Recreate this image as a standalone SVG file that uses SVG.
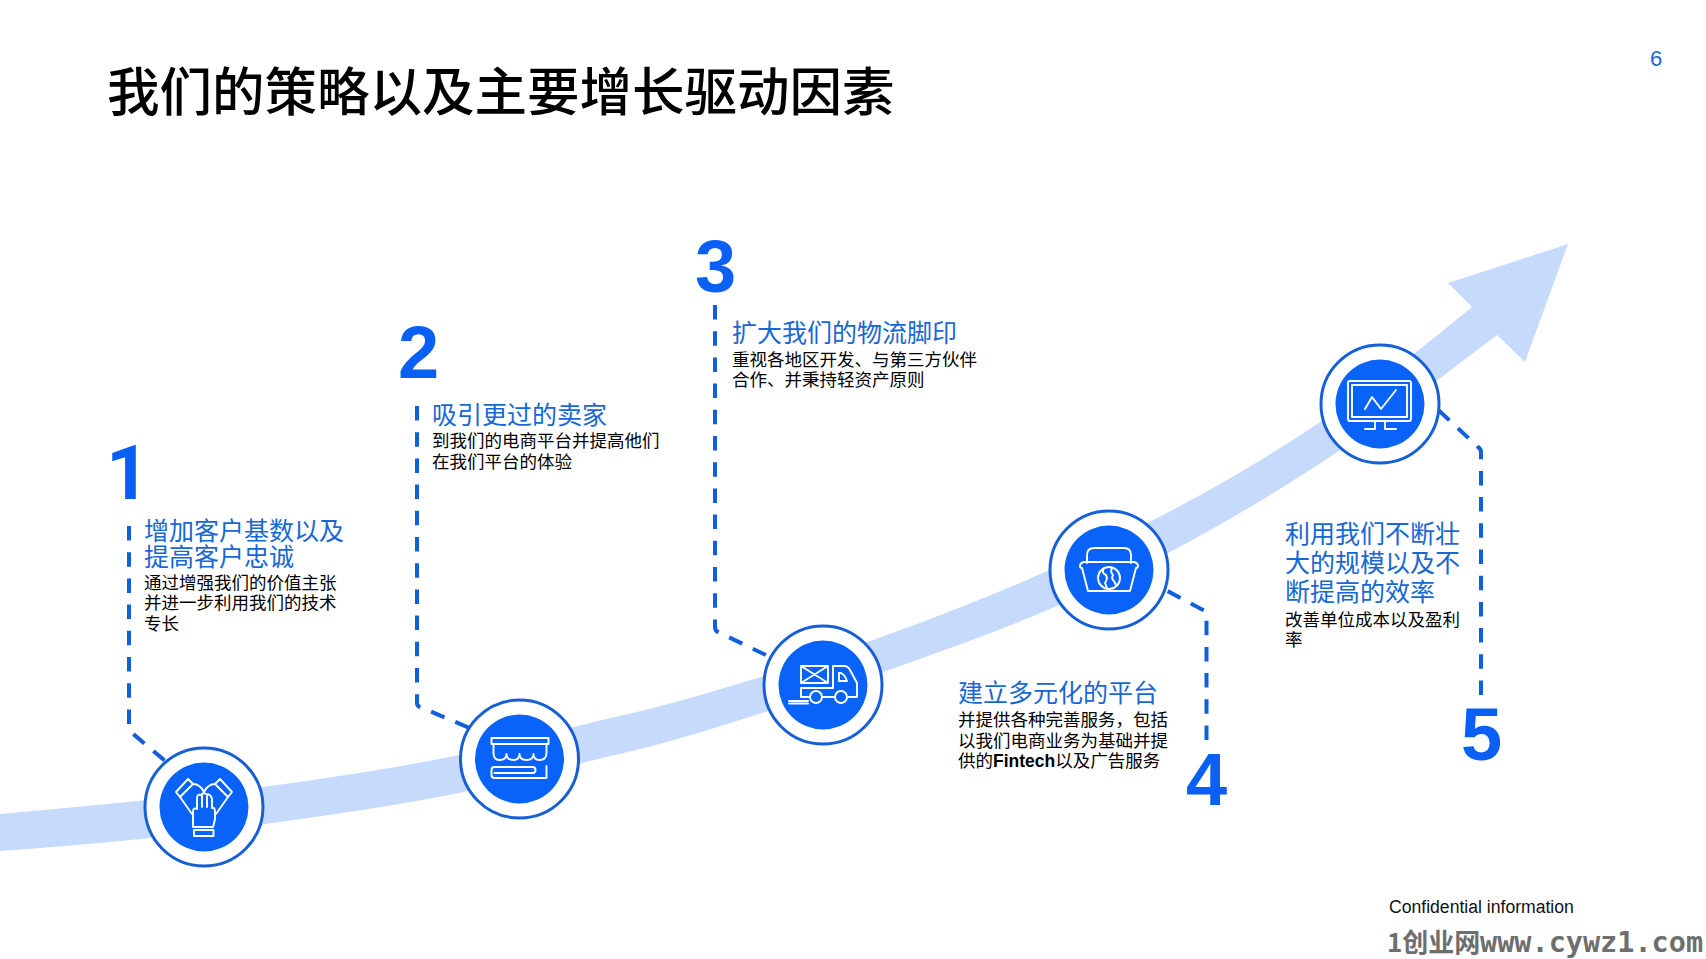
<svg xmlns="http://www.w3.org/2000/svg" width="1706" height="959" viewBox="0 0 1706 959">
<style>
text{font-family:"Noto Sans CJK SC","Liberation Sans",sans-serif}
.title{font-size:52.5px;fill:#000;font-weight:500}
.h{font-size:25px;fill:#1767d6}
.b{font-size:17.5px;fill:#000}
.n{font-family:"Liberation Sans",Arial,sans-serif;font-weight:700;font-size:74px;fill:#0a60f5}
.lat{font-family:"Liberation Sans",Arial,sans-serif;font-weight:700}
.dash{fill:none;stroke:#125fdc;stroke-width:4;stroke-dasharray:14.5 11.7}
.ring{fill:#fff;stroke:#155fd8;stroke-width:3}
.core{fill:#0a63f8}
.ic{fill:none;stroke:#fff;stroke-width:1.9;stroke-linejoin:round;stroke-linecap:round}
</style>
<rect width="1706" height="959" fill="#fff"/>
<text class="title" x="107" y="111">我们的策略以及主要增长驱动因素</text>
<text x="1650" y="66" style="font-family:'Liberation Sans',sans-serif;font-size:22px;fill:#1767d6">6</text>
<path id="growth-arrow" fill="#c6dbfb" d="M0,814 Q100,805 182,796.5 Q264,788 362,772.5 Q460,757 520,741 Q580,725 630,713.5 Q680,702 775,672.5 Q870,643 960,607.5 Q1050,572 1125,534.5 Q1200,497 1260,460.5 Q1320,424 1367.5,389 Q1415,354 1472,307 L1448,283 L1568,244 L1525,362 L1497,335 L1435,382 L1387.5,417 Q1340,452 1270,495 Q1200,538 1128,573.5 Q1056,609 968,641.5 Q880,674 780,707 Q680,740 630,751.5 Q580,763 520,779 Q460,795 362,810 Q264,825 182,834.5 Q100,844 0,851 Z"/>
<g id="connectors">
<path class="dash" d="M129,526 V727 Q129,730 132,733 L170,765"/>
<path class="dash" d="M417,406 V703 Q417,706 420,707 L472,729"/>
<path class="dash" d="M715,305 V627 Q715,631 718,632 L770,657"/>
<path class="dash" d="M1206.5,740 V614 Q1206.5,611 1203,610 L1160,587"/>
<path class="dash" d="M1481,695 V452 Q1481,449 1478,447 L1433,405"/>
</g>
<g id="node-1">
<circle class="ring" cx="204" cy="807" r="59"/><circle class="core" cx="204" cy="807" r="44.5"/>
<g class="ic" transform="translate(204,807)">
<path d="M-28,-15 L-16,-28 L-11,-23 L-24,-10 Z M28,-15 L16,-28 L11,-23 L24,-10 Z"/>
<path d="M-24,-10 L-12,7 M24,-10 L12,7 M-11,-23 Q-4,-23 0,-15 Q4,-23 11,-23"/>
<path d="M-11,20 V5 Q-11,0 -7,2 V-9 Q-7,-13 -3,-12 Q-1,-15 2,-13 Q7,-13 8,-8 V1 Q11,0 11,5 V12 Q10,17 9,20 Z M-2,-12 V0 M3,-12 V0"/>
<rect x="-10" y="23" width="19.5" height="6"/>
</g>
<text class="n" x="106" y="499" style="font-family:Roboto,'Liberation Sans',sans-serif;font-size:76px">1</text>
<text class="h" x="144" y="539.5">增加客户基数以及</text><text class="h" x="144" y="565.5">提高客户忠诚</text>
<text class="b" x="144" y="589">通过增强我们的价值主张</text><text class="b" x="144" y="609">并进一步利用我们的技术</text><text class="b" x="144" y="630">专长</text>
</g>
<g id="node-2">
<circle class="ring" cx="519.5" cy="759" r="59"/><circle class="core" cx="519.5" cy="759" r="44.5"/>
<g class="ic" transform="translate(519.5,759)">
<path d="M-28,-21 H29 V-15 H-28 Z"/>
<path d="M-26,-15 V-6 Q-26,1 -20,1 Q-13,1 -13,-5 Q-13,1 -6,1 Q0,1 0,-5 Q0,1 7,1 Q14,1 14,-5 Q14,1 20,1 Q27,1 27,-6 V-15"/>
<path d="M27,7 V19 H-25 a3,3 0 0 1 -3,-3 V11 a3,3 0 0 1 3,-3 H13 a3,3 0 0 1 0,6 H-25"/>
</g>
<text class="n" x="398" y="377.5">2</text>
<text class="h" x="432" y="424">吸引更过的卖家</text>
<text class="b" x="432" y="447">到我们的电商平台并提高他们</text><text class="b" x="432" y="468">在我们平台的体验</text>
</g>
<g id="node-3">
<circle class="ring" cx="823" cy="685" r="59"/><circle class="core" cx="823" cy="685" r="44.5"/>
<g class="ic" transform="translate(823,685)">
<path d="M-22,-19 H5 V-2 H-22 Z M-22,-19 L5,-2 M5,-19 L-22,-2"/>
<path d="M10,-2 V-19 H21 Q25,-19 27,-15 L34,-2 V12 H24 M12,12 H-1 M-13,12 H-22 V3 H10 V-2"/>
<path d="M16,-12 V-4 H24 Q22,-10 18,-12 Z"/>
<circle cx="-7" cy="12" r="6"/><circle cx="18" cy="12" r="6"/>
<path d="M-34,16 H-15 M-34,18.5 H-15"/>
</g>
<text class="n" x="695" y="292">3</text>
<text class="h" x="732" y="341.5">扩大我们的物流脚印</text>
<text class="b" x="732" y="366">重视各地区开发、与第三方伙伴</text><text class="b" x="732" y="386">合作、并秉持轻资产原则</text>
</g>
<g id="node-4">
<circle class="ring" cx="1109" cy="570" r="59"/><circle class="core" cx="1109" cy="570" r="44.5"/>
<g class="ic" transform="translate(1109,570)">
<path d="M-22,-7 V-15 Q-22,-22 -15,-22 H15 Q22,-22 22,-15 V-7"/>
<path d="M-18,-8 H25 Q29,-7 29,-4 Q29,-2 27,-2 L21,21 H-21 L-27,-2 Q-29,-2 -29,-4 Q-29,-7 -25,-8 H-18"/>
<circle cx="0" cy="8" r="11"/>
<path d="M-5,-2 Q-8,3 -3,5 Q-1,9 -4,13 L-2,18 M3,-2 Q1,2 4,5 Q2,9 5,11 L7,15"/>
</g>
<text class="n" x="1186" y="805">4</text>
<text class="h" x="958" y="701.5">建立多元化的平台</text>
<text class="b" x="958" y="726">并提供各种完善服务，包括</text><text class="b" x="958" y="746.5">以我们电商业务为基础并提</text><text class="b" x="958" y="767">供的<tspan class="lat">Fintech</tspan>以及广告服务</text>
</g>
<g id="node-5">
<circle class="ring" cx="1380" cy="404" r="59"/><circle class="core" cx="1380" cy="404" r="44.5"/>
<g class="ic" transform="translate(1380,404)">
<rect x="-32" y="-23" width="63" height="40" rx="2"/><rect x="-28" y="-19" width="55" height="32"/>
<path d="M-15,5 L-8,-7 L1,5 L16,-14 M-5,17 V25 H-15 M5,17 V25 H16"/>
</g>
<text class="n" x="1461" y="760">5</text>
<text class="h" x="1285" y="543">利用我们不断壮</text><text class="h" x="1285" y="572">大的规模以及不</text><text class="h" x="1285" y="600.5">断提高的效率</text>
<text class="b" x="1285" y="626">改善单位成本以及盈利</text><text class="b" x="1285" y="646">率</text>
</g>
<text x="1389" y="913" style="font-family:'Liberation Sans',sans-serif;font-size:17.6px;fill:#111">Confidential information</text>
<text x="1387" y="952" style="font-family:'Noto Sans CJK SC',sans-serif;font-size:26px;font-weight:700;fill:#6e6e6e">1创业网</text>
<text x="1480" y="952" style="font-family:'DejaVu Sans Mono',monospace;font-size:28.5px;font-weight:700;fill:#6e6e6e">www.cywz1.com</text>
</svg>
